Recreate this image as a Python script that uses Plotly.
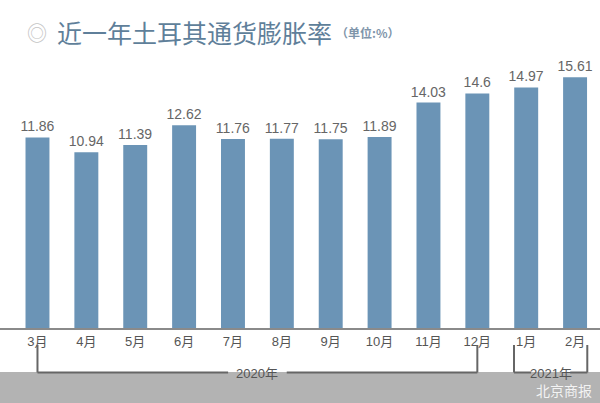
import plotly.graph_objects as go

months = ["3月", "4月", "5月", "6月", "7月", "8月", "9月", "10月", "11月", "12月", "1月", "2月"]
inflation = [11.86, 10.94, 11.39, 12.62, 11.76, 11.77, 11.75, 11.89, 14.03, 14.6, 14.97, 15.61]
title_text = "近一年土耳其通货膨胀率"
unit_text = "（单位:%）"
year_groups = [("2020年", 0, 9), ("2021年", 9.75, 11.25)]

W, H = 600, 403
T, B = 50, 75
PH = H - T - B


def py(p):
    return (H - B - p) / PH


def px(p):
    return p / W


CJK = "Noto Sans CJK SC"
NUM = "Liberation Sans, Noto Sans CJK SC"

fig = go.Figure(go.Bar(
    x=months, y=inflation,
    text=[str(v) for v in inflation],
    textposition="outside",
    constraintext="none",
    textfont=dict(family=NUM, size=14, color="#666666"),
    marker=dict(color="#6b94b6", line=dict(width=0)),
    cliponaxis=False,
    width=0.49,
))

shapes = []
# grey footer band
shapes.append(dict(type="rect", xref="paper", yref="paper", x0=0, x1=1,
                   y0=py(403), y1=py(372), fillcolor="#b3b3b3", line=dict(width=0), layer="below"))
lc = dict(color="#666666", width=2)
# 2020 bracket
shapes += [
    dict(type="line", xref="x", yref="paper", x0=0, x1=0, y0=py(345), y1=py(372.5), line=lc),
    dict(type="line", xref="x", yref="paper", x0=9, x1=9, y0=py(345), y1=py(372.5), line=lc),
    dict(type="line", xref="x", yref="paper", x0=0, x1=3.9, y0=py(372.5), y1=py(372.5), line=lc),
    dict(type="line", xref="x", yref="paper", x0=5.1, x1=9, y0=py(372.5), y1=py(372.5), line=lc),
]
# 2021 bracket
shapes += [
    dict(type="line", xref="x", yref="paper", x0=9.75, x1=9.75, y0=py(345), y1=py(372.5), line=lc),
    dict(type="line", xref="x", yref="paper", x0=11.25, x1=11.25, y0=py(345), y1=py(372.5), line=lc),
    dict(type="line", xref="x", yref="paper", x0=9.75, x1=10.1, y0=py(372.5), y1=py(372.5), line=lc),
    dict(type="line", xref="x", yref="paper", x0=10.9, x1=11.25, y0=py(372.5), y1=py(372.5), line=lc),
]

annotations = []
for label, a, b in year_groups:
    annotations.append(dict(x=(a + b) / 2, y=py(373.5), xref="x", yref="paper", text=label,
                            showarrow=False, xanchor="center", yanchor="middle",
                            font=dict(family=NUM, size=13, color="#555555")))
annotations += [
    dict(x=px(37), y=py(32.5), xref="paper", yref="paper", text="◎", showarrow=False,
         xanchor="center", yanchor="middle", font=dict(family=CJK, size=20, color="#c4c4c4")),
    dict(x=px(55), y=py(32), xref="paper", yref="paper", text=title_text, showarrow=False,
         xanchor="left", yanchor="middle", font=dict(family=CJK, size=25, color="#5f7f9a")),
    dict(x=px(334), y=py(33), xref="paper", yref="paper", text="<b>" + unit_text + "</b>", showarrow=False,
         xanchor="left", yanchor="middle", font=dict(family=CJK, size=12, color="#7f95aa")),
    dict(x=px(594), y=py(390), xref="paper", yref="paper", text="北京商报", showarrow=False,
         xanchor="right", yanchor="middle", font=dict(family=CJK, size=14, color="rgba(255,255,255,0.85)")),
]

fig.update_layout(
    width=W, height=H,
    margin=dict(l=0, r=0, t=T, b=B, pad=0),
    paper_bgcolor="white", plot_bgcolor="white",
    showlegend=False,
    shapes=shapes,
    annotations=annotations,
    xaxis=dict(range=[-0.767, 11.51], showline=True, linecolor="#8a8a8a", linewidth=2,
               showgrid=False, zeroline=False, ticks="", fixedrange=True,
               tickfont=dict(family=NUM, size=13, color="#555555")),
    yaxis=dict(range=[0, 17.3], visible=False, showgrid=False, zeroline=False, fixedrange=True),
)

fig.write_html("out.html", config={"displayModeBar": False},
               post_script="document.body.style.margin='0';document.body.style.overflow='hidden';")
